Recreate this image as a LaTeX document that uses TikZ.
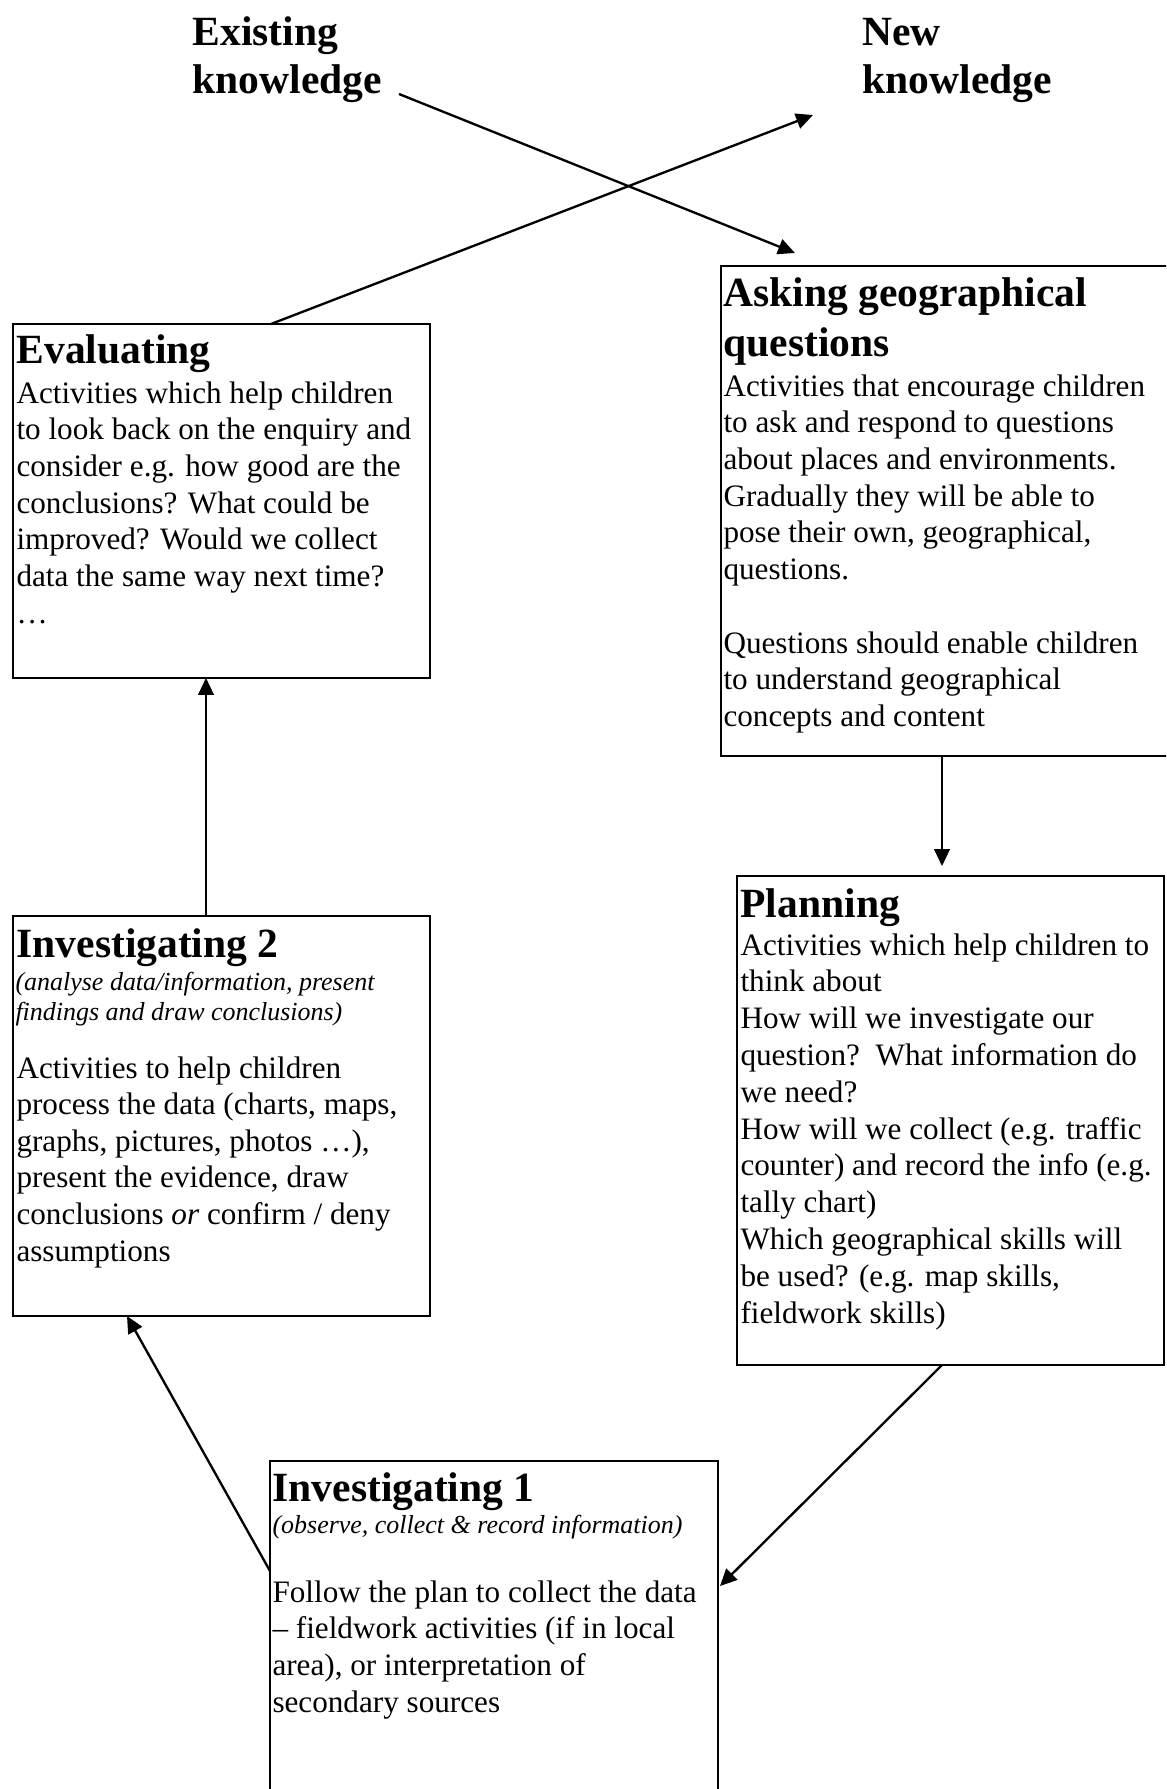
\documentclass[tikz,border=0pt]{standalone}
\usepackage{fontspec}
\setmainfont{Liberation Serif}
\usetikzlibrary{arrows.meta,fit}
\tikzset{
  box/.style={draw=black, line width=0.8pt, inner sep=0pt},
  arr/.style={line width=0.9pt, -{Triangle[length=6.5pt,width=6pt]}},
  ttl/.style={font=\fontsize{16}{18}\selectfont\bfseries, inner sep=0pt},
  bdy/.style={font=\fontsize{12}{14}\selectfont, inner sep=0pt},
  itl/.style={font=\fontsize{10}{12}\selectfont\itshape, inner sep=0pt},
}
\newcommand\txtlines[6]{\foreach \mytext [count=\i] in {#6} {\node[#2, anchor=base west] (#1-\i) at (#3,{#4+(\i-1)*#5}) {\mytext};}}
\begin{document}
\begin{tikzpicture}[x=0.385pt,y=-0.385pt]
\useasboundingbox (0,0) rectangle (1166,1789);
\fill[white] (0,0) rectangle (1166,1789);
\begin{scope}
\clip (0,0) rectangle (1166,1789);
% top labels
\txtlines{ex}{ttl}{192}{46}{48}{Existing,knowledge}
\txtlines{nw}{ttl}{862}{46}{48}{New,knowledge}
% boxes
\node[box, fit={(13,324) (430,678)}] (eval) {};
\node[box, fit={(721,266) (1175,756)}] (ask) {};
\node[box, fit={(737,876) (1164,1365)}] (plan) {};
\node[box, fit={(13,916) (430,1316)}] (inv2) {};
\node[box, fit={(270,1461) (718,1800)}] (inv1) {};
% Evaluating
\txtlines{evt}{ttl}{16}{364}{50}{Evaluating}
\txtlines{evb}{bdy}{16}{403}{36.7}{Activities which help children,to look back on the enquiry and,consider e.g. how good are the,conclusions? What could be,improved? Would we collect,data the same way next time?,…}
% Asking
\txtlines{akt}{ttl}{723}{306}{50}{Asking geographical,questions}
\txtlines{akb}{bdy}{723}{396}{36.7}{Activities that encourage children,to ask and respond to questions,about places and environments.,Gradually they will be able to,{pose their own, geographical,},questions.}
\txtlines{akc}{bdy}{723}{653}{36.7}{Questions should enable children,to understand geographical,concepts and content}
% Planning
\txtlines{plt}{ttl}{740}{917}{50}{Planning}
\txtlines{plb}{bdy}{740}{955}{36.8}{Activities which help children to,think about,How will we investigate our,question?\ \ What information do,we need?,How will we collect (e.g. traffic,counter) and record the info (e.g.,tally chart),Which geographical skills will,{be used? (e.g. map skills,},fieldwork skills)}
% Investigating 2
\txtlines{i2t}{ttl}{16}{957}{50}{Investigating 2}
\txtlines{i2i}{itl}{15}{990}{30.7}{{(analyse data/information, present},findings and draw conclusions)}
\txtlines{i2b}{bdy}{16}{1078}{36.6}{Activities to help children,{process the data (charts, maps,},{graphs, pictures, photos …),},{present the evidence, draw},conclusions \textit{or} confirm / deny,assumptions}
% Investigating 1
\txtlines{i1t}{ttl}{272}{1501}{50}{Investigating 1}
\txtlines{i1i}{itl}{272}{1533}{30.7}{{(observe, collect \& record information)}}
\txtlines{i1b}{bdy}{272}{1602}{36.8}{Follow the plan to collect the data,– fieldwork activities (if in local,{area), or interpretation of},secondary sources}
% connector end points
\coordinate (exout) at (399,94);
\coordinate (askin) at (795,253);
\coordinate (evout) at (271,324);
\coordinate (nwin) at (813,115);
\coordinate (askout) at (942,756);
\coordinate (planin) at (942,866);
\coordinate (planout) at (942,1365);
\coordinate (inv1in) at (720,1586);
\coordinate (inv1out) at (270,1571);
\coordinate (inv2in) at (127,1316);
\coordinate (inv2out) at (206,916);
\coordinate (evin) at (206,678);
% connectors
\draw[arr] (exout) -- (askin);
\draw[arr] (evout) -- (nwin);
\draw[arr] (askout) -- (planin);
\draw[arr] (planout) -- (inv1in);
\draw[arr] (inv1out) -- (inv2in);
\draw[arr] (inv2out) -- (evin);
\end{scope}
\end{tikzpicture}
\end{document}
